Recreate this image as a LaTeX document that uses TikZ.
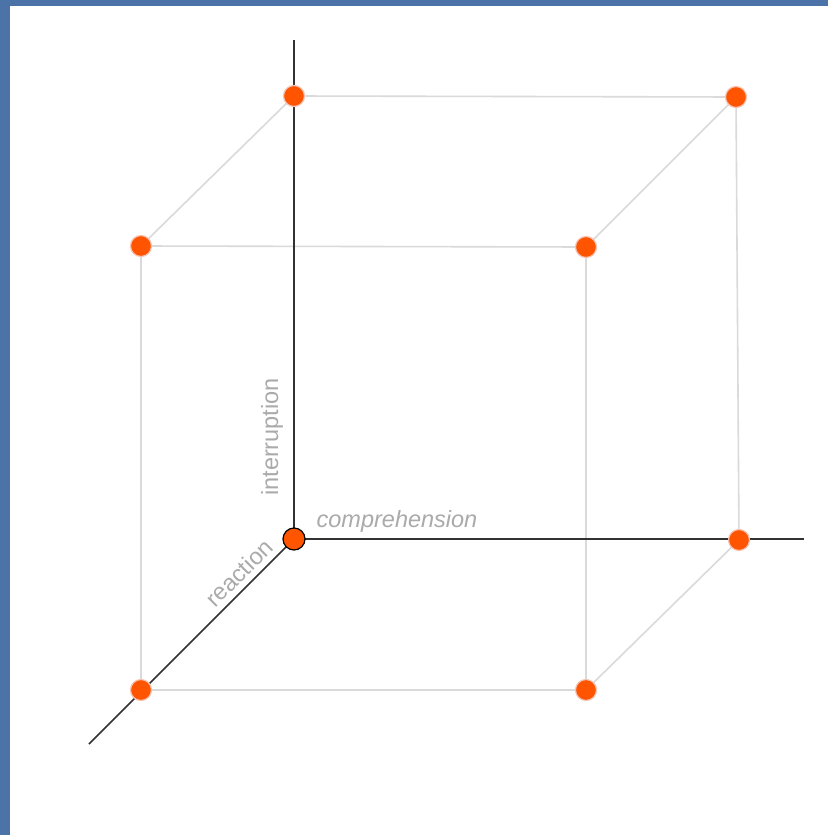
\documentclass[tikz,border=0pt]{standalone}
\usepackage{fontspec}
\setmainfont{Liberation Sans}
\definecolor{frameblue}{RGB}{75,115,168}
\definecolor{dotorange}{RGB}{255,85,0}
\definecolor{halo}{RGB}{245,195,180}
\definecolor{edgegray}{RGB}{218,218,218}
\definecolor{axisgray}{RGB}{50,50,50}
\definecolor{labelgray}{RGB}{170,170,170}
\begin{document}
\begin{tikzpicture}[x=1pt,y=-1pt,
  dot/.style={circle,fill=dotorange,draw=halo,line width=1.2pt,minimum size=21pt,inner sep=0pt},
  origin/.style={circle,fill=dotorange,draw=black,line width=1.2pt,minimum size=22pt,inner sep=0pt},
  edge/.style={draw=edgegray,line width=1.6pt},
  axis/.style={draw=axisgray,line width=1.5pt},
  lab/.style={text=labelgray,font=\fontsize{23.5}{27}\selectfont,inner sep=0pt}]
\useasboundingbox (0,0) rectangle (828,835);
\fill[frameblue] (0,0) rectangle (828,835);
\fill[white] (10,6) rectangle (828,835);
% coordinates
\coordinate (ytop) at (294,40);
\coordinate (xend) at (804,539);
\coordinate (zend) at (89,744);
\coordinate (pO) at (294,539);
\coordinate (pA) at (294,96);
\coordinate (pB) at (736,97);
\coordinate (pC) at (141,246);
\coordinate (pD) at (586,247);
\coordinate (pE) at (739,540);
\coordinate (pF) at (141,690);
\coordinate (pG) at (586,690);
% edges
\path[edge] (pA) -- (pB);
\path[edge] (pA) -- (pC);
\path[edge] (pC) -- (pD);
\path[edge] (pB) -- (pD);
\path[edge] (pC) -- (pF);
\path[edge] (pD) -- (pG);
\path[edge] (pB) -- (pE);
\path[edge] (pE) -- (pG);
\path[edge] (pF) -- (pG);
% axes
\path[axis] (pO) -- (ytop);
\path[axis] (pO) -- (xend);
\path[axis] (pO) -- (zend);
% dots
\node[dot] (A) at (pA) {};
\node[dot] (B) at (pB) {};
\node[dot] (C) at (pC) {};
\node[dot] (D) at (pD) {};
\node[dot] (E) at (pE) {};
\node[dot] (F) at (pF) {};
\node[dot] (G) at (pG) {};
\node[origin] (O) at (pO) {};
% labels
\node[lab,font=\fontsize{23.5}{27}\selectfont\itshape] (lx) at (397,521) {comprehension};
\node[lab,rotate=90] (ly) at (272,437) {interruption};
\node[lab,rotate=45] (lz) at (239,573) {reaction};
\end{tikzpicture}
\end{document}
